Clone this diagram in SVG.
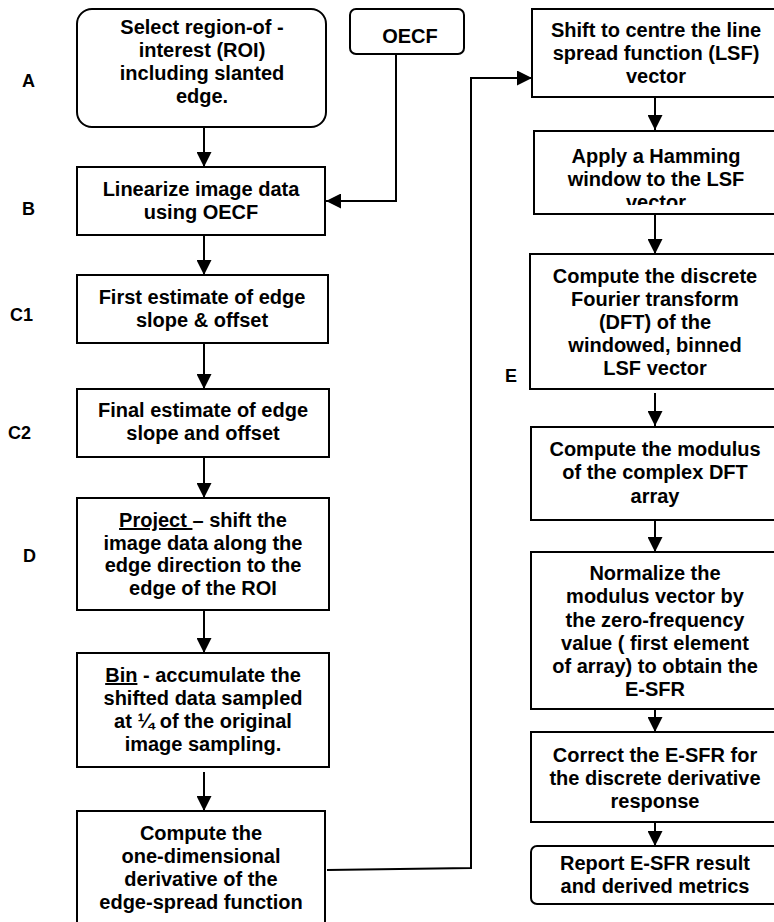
<svg xmlns="http://www.w3.org/2000/svg" width="774" height="922" viewBox="0 0 774 922">
<style>
.bx{fill:#fff;stroke:#000;stroke-width:2}
.t{font-family:"Liberation Sans",Arial,sans-serif;font-weight:bold;font-size:20px;fill:#000;text-anchor:middle}
.lb{font-family:"Liberation Sans",Arial,sans-serif;font-weight:bold;font-size:18px;fill:#000}
.c{fill:none;stroke:#000;stroke-width:2}
</style>
<defs>
<marker id="ah" markerUnits="userSpaceOnUse" markerWidth="15" markerHeight="15" refX="15" refY="7.5" orient="auto">
<path d="M0,0 L15,7.5 L0,15 z" fill="#000"/>
</marker>
<clipPath id="hamclip"><rect x="530" y="120" width="260" height="85"/></clipPath>
</defs>
<rect width="774" height="922" fill="#fff"/>

<g id="labels">
<text class="lb" x="22" y="87">A</text>
<text class="lb" x="22" y="215">B</text>
<text class="lb" x="10" y="321">C1</text>
<text class="lb" x="8" y="439">C2</text>
<text class="lb" x="23" y="562">D</text>
<text class="lb" x="505" y="382">E</text>
</g>

<g id="connectors">
<path class="c" d="M204,127 V167" marker-end="url(#ah)"/>
<path class="c" d="M204,235 V275" marker-end="url(#ah)"/>
<path class="c" d="M204,343 V389" marker-end="url(#ah)"/>
<path class="c" d="M204,457 V498" marker-end="url(#ah)"/>
<path class="c" d="M204,610 V653" marker-end="url(#ah)"/>
<path class="c" d="M204,772 V811" marker-end="url(#ah)"/>
<path class="c" d="M396,54 V201 H326" marker-end="url(#ah)"/>
<path class="c" d="M327,870 L471,868 V78 H532" marker-end="url(#ah)"/>
<path class="c" d="M655,97 V130" marker-end="url(#ah)"/>
<path class="c" d="M655,214 V254" marker-end="url(#ah)"/>
<path class="c" d="M655,393 V426" marker-end="url(#ah)"/>
<path class="c" d="M655,520 V552" marker-end="url(#ah)"/>
<path class="c" d="M655,709 V732" marker-end="url(#ah)"/>
<path class="c" d="M655,822 V846" marker-end="url(#ah)"/>
</g>

<g id="nodeA">
<rect class="bx" x="77" y="9" width="249" height="118" rx="15"/>
<text class="t" x="202" y="34">Select region-of -</text>
<text class="t" x="202" y="57">interest (ROI)</text>
<text class="t" x="202" y="80">including slanted</text>
<text class="t" x="202" y="103">edge.</text>
</g>
<g id="nodeOECF">
<rect class="bx" x="350" y="9" width="114" height="45" rx="6"/>
<text class="t" x="410" y="43">OECF</text>
</g>
<g id="nodeB">
<rect class="bx" x="77" y="167" width="248" height="68"/>
<text class="t" x="201" y="196">Linearize image data</text>
<text class="t" x="201" y="219">using OECF</text>
</g>
<g id="nodeC1">
<rect class="bx" x="77" y="275" width="251" height="68"/>
<text class="t" x="202" y="304">First estimate of edge</text>
<text class="t" x="202" y="327">slope &amp; offset</text>
</g>
<g id="nodeC2">
<rect class="bx" x="77" y="389" width="252" height="68"/>
<text class="t" x="203" y="417">Final estimate of edge</text>
<text class="t" x="203" y="440">slope and offset</text>
</g>
<g id="nodeD">
<rect class="bx" x="77" y="498" width="252" height="112"/>
<text class="t" x="203" y="527"><tspan text-decoration="underline">Project </tspan>– shift the</text>
<text class="t" x="203" y="550">image data along the</text>
<text class="t" x="203" y="572">edge direction to the</text>
<text class="t" x="203" y="595">edge of the ROI</text>
</g>
<g id="nodeBin">
<rect class="bx" x="77" y="653" width="252" height="114"/>
<text class="t" x="203" y="682"><tspan text-decoration="underline">Bin</tspan> - accumulate the</text>
<text class="t" x="203" y="705">shifted data sampled</text>
<text class="t" x="203" y="728">at ¼ of the original</text>
<text class="t" x="203" y="751">image sampling.</text>
</g>
<g id="nodeDeriv">
<rect class="bx" x="77" y="811" width="248" height="130"/>
<text class="t" x="201" y="840">Compute the</text>
<text class="t" x="201" y="863">one-dimensional</text>
<text class="t" x="201" y="886">derivative of the</text>
<text class="t" x="201" y="909">edge-spread function</text>
</g>

<g id="nodeShift">
<rect class="bx" x="532" y="9" width="260" height="88"/>
<text class="t" x="656" y="37">Shift to centre the line</text>
<text class="t" x="656" y="60">spread function (LSF)</text>
<text class="t" x="656" y="83">vector</text>
</g>
<g id="nodeHamming">
<rect class="bx" x="534" y="131" width="260" height="83"/>
<text class="t" x="656" y="163">Apply a Hamming</text>
<text class="t" x="656" y="186">window to the LSF</text>
<text class="t" x="656" y="209" clip-path="url(#hamclip)">vector</text>
</g>
<g id="nodeDFT">
<rect class="bx" x="530" y="254" width="260" height="135"/>
<text class="t" x="655" y="283">Compute the discrete</text>
<text class="t" x="655" y="306">Fourier transform</text>
<text class="t" x="655" y="329">(DFT) of the</text>
<text class="t" x="655" y="352">windowed, binned</text>
<text class="t" x="655" y="375">LSF vector</text>
</g>
<g id="nodeModulus">
<rect class="bx" x="531" y="427" width="260" height="93"/>
<text class="t" x="655" y="456">Compute the modulus</text>
<text class="t" x="655" y="479">of the complex DFT</text>
<text class="t" x="655" y="503">array</text>
</g>
<g id="nodeNormalize">
<rect class="bx" x="531" y="552" width="260" height="157"/>
<text class="t" x="655" y="580">Normalize the</text>
<text class="t" x="655" y="603">modulus vector by</text>
<text class="t" x="655" y="627">the zero-frequency</text>
<text class="t" x="655" y="650">value ( first element</text>
<text class="t" x="655" y="673">of array) to obtain the</text>
<text class="t" x="655" y="696">E-SFR</text>
</g>
<g id="nodeCorrect">
<rect class="bx" x="531" y="732" width="260" height="90"/>
<text class="t" x="655" y="762">Correct the E-SFR for</text>
<text class="t" x="655" y="785">the discrete derivative</text>
<text class="t" x="655" y="808">response</text>
</g>
<g id="nodeReport">
<rect class="bx" x="531" y="846" width="260" height="58" rx="6"/>
<text class="t" x="655" y="870">Report E-SFR result</text>
<text class="t" x="655" y="893">and derived metrics</text>
</g>
</svg>
